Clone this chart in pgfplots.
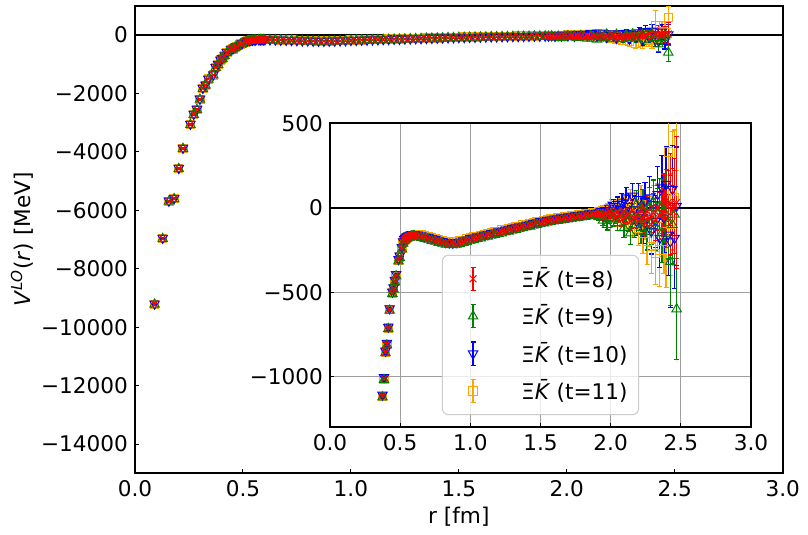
\documentclass[border=0pt]{standalone}
\usepackage{pgfplots}
\usepackage{pgfplotstable}
\pgfplotsset{compat=1.18}
\usepackage{fontspec}
\setmainfont{DejaVu Sans}
\newcommand\fs{\fontsize{10.8pt}{13pt}\selectfont}
\definecolor{mgreen}{HTML}{008000}
\definecolor{morange}{HTML}{FFA500}

\pgfplotstableread{
r y8 e8 y9 e9 y10 e10 y11 e11
0.0907 -9210 40 -9220 45 -9200 40 -9215 45
0.1283 -6960 30 -6975 35 -6950 30 -6965 35
0.1571 -5690 25 -5700 28 -5680 25 -5695 28
0.1814 -5600 25 -5610 28 -5590 25 -5605 28
0.2028 -4570 20 -4580 22 -4560 20 -4575 22
0.2222 -3880 18 -3890 20 -3870 18 -3885 20
0.2565 -3060 15 -3070 16 -3050 15 -3065 16
0.2721 -2720 14 -2730 15 -2710 14 -2725 15
0.2868 -2550 13 -2560 14 -2540 13 -2555 14
0.3008 -2200 12 -2210 13 -2190 12 -2205 13
0.3142 -1830 11 -1840 12 -1820 11 -1835 12
0.3270 -1720 10 -1730 11 -1710 10 -1725 11
0.3394 -1510 10 -1520 11 -1500 10 -1515 11
0.3628 -1370 9 -1380 10 -1360 9 -1375 10
0.3740 -1115 8 -1122 9 -1108 8 -1118 9
0.3848 -1011 8 -1018 9 -1004 8 -1013 9
0.3954 -853 7 -860 8 -848 7 -856 8
0.4056 -807 7 -813 8 -801 7 -809 8
0.4156 -711 6 -717 7 -706 6 -713 7
0.4254 -602 6 -608 7 -597 6 -604 7
0.4443 -503 5 -509 6 -498 5 -505 6
0.4535 -478 5 -484 6 -473 5 -480 6
0.4625 -434 5 -440 6 -429 5 -436 6
0.4713 -399 5 -405 6 -394 5 -401 6
0.4884 -310 4 -316 5 -305 4 -312 5
0.4968 -290 4 -296 5 -285 4 -292 5
0.5131 -240 4 -246 5 -235 4 -242 5
0.5210 -205 4 -211 5 -200 4 -207 5
0.5289 -191 4 -197 5 -186 4 -193 5
0.5366 -185 4 -191 5 -180 4 -187 5
0.5442 -178 4 -184 5 -173 4 -180 5
0.5517 -174 4 -180 5 -169 4 -176 5
0.5591 -170 4 -176 5 -165 4 -172 5
0.5737 -166 4 -172 5 -161 4 -168 5
0.5808 -164 4 -170 5 -159 4 -166 5
0.5878 -163 4 -169 5 -158 4 -165 5
0.5948 -162 4 -168 5 -157 4 -164 5
0.6016 -162 4 -168 5 -157 4 -164 5
0.625 -163 5 -175 6 -160 7 -158 8
0.650 -172 5 -177 6 -165 7 -161 8
0.675 -171 5 -184 6 -172 7 -167 8
0.700 -183 5 -187 6 -174 7 -174 8
0.725 -185 6 -195 7 -181 8 -178 9
0.750 -196 6 -199 7 -186 8 -186 9
0.775 -195 6 -207 7 -194 8 -190 9
0.800 -206 6 -211 7 -199 8 -198 9
0.825 -207 6 -218 7 -205 8 -201 9
0.850 -215 7 -219 8 -207 9 -206 10
0.875 -210 7 -221 8 -209 9 -204 10
0.900 -213 7 -217 8 -205 9 -204 10
0.925 -203 7 -214 8 -202 9 -197 10
0.950 -203 7 -207 8 -195 9 -194 10
0.975 -191 7 -202 8 -190 9 -185 10
1.000 -189 8 -193 9 -181 10 -180 11
1.025 -179 8 -190 9 -178 10 -173 11
1.050 -179 8 -183 9 -171 10 -170 11
1.075 -169 8 -180 9 -168 10 -163 11
1.100 -169 8 -173 9 -161 10 -160 11
1.125 -159 8 -170 9 -158 10 -153 11
1.150 -159 9 -163 10 -151 11 -150 12
1.175 -149 9 -160 10 -148 11 -143 12
1.200 -149 9 -153 10 -141 11 -140 12
1.225 -139 9 -150 10 -138 11 -133 12
1.250 -139 9 -143 10 -131 11 -130 12
1.275 -129 9 -140 10 -128 11 -123 12
1.300 -129 10 -133 11 -121 12 -120 13
1.325 -119 10 -130 11 -118 12 -113 13
1.350 -119 10 -123 11 -111 12 -110 13
1.375 -109 10 -120 11 -108 12 -103 13
1.400 -109 10 -113 11 -101 12 -100 13
1.425 -99 10 -110 11 -98 12 -93 13
1.450 -99 11 -103 12 -91 13 -90 14
1.475 -89 11 -100 12 -88 13 -83 14
1.500 -89 11 -93 12 -81 13 -80 15
1.525 -80 11 -91 12 -79 13 -74 15
1.550 -81 11 -85 12 -73 13 -72 15
1.575 -72 11 -83 12 -71 13 -66 15
1.600 -73 12 -77 13 -65 14 -64 16
1.625 -65 12 -76 13 -64 14 -59 16
1.650 -67 12 -71 13 -59 14 -58 16
1.675 -59 12 -70 14 -58 15 -53 17
1.700 -61 12 -65 14 -53 15 -52 17
1.725 -53 13 -64 14 -52 16 -47 18
1.750 -55 13 -59 15 -47 16 -46 18
1.775 -47 13 -58 15 -46 16 -41 19
1.800 -49 14 -53 16 -41 17 -40 20
1.825 -41 14 -52 16 -40 18 -35 20
1.850 -43 15 -47 17 -35 18 -34 21
1.875 -36 15 -47 17 -35 19 -30 22
1.900 -39 16 -43 18 -31 20 -30 22
1.915 -40 18 -55 22 -30 22 -25 25
1.930 -30 20 -45 24 -20 24 -40 28
1.945 -55 22 -75 28 -40 26 -20 30
1.960 -35 24 -50 30 -15 30 -35 34
1.975 -45 26 -100 32 -30 32 -10 36
1.990 -20 28 -60 34 0 34 -45 38
2.005 -50 30 -35 36 -25 36 10 40
2.020 -30 32 -70 38 10 38 -30 44
2.035 -60 34 -45 40 -40 42 -5 46
2.050 -25 36 -90 44 20 44 -60 50
2.065 -45 38 -30 46 -10 48 0 54
2.080 -70 40 -60 50 30 52 -40 58
2.095 -20 44 -120 54 -15 56 10 62
2.110 -55 46 -40 58 60 60 -70 66
2.125 -35 50 -80 62 10 64 -20 72
2.140 -80 54 -150 66 -40 70 30 78
2.155 -15 58 -50 70 70 74 -90 84
2.170 -60 62 -100 74 -10 80 10 90
2.185 -40 66 20 80 -80 86 -60 96
2.200 -75 70 -70 86 50 92 -120 104
2.215 -10 76 -120 92 -30 98 20 112
2.230 -55 82 10 98 -110 104 -150 120
2.245 -90 88 -60 104 40 110 -60 128
2.260 -20 94 -140 110 -60 118 -200 138
2.275 -60 100 0 118 60 126 -80 148
2.290 -100 108 -90 126 -140 134 -230 160
2.305 -30 116 30 134 20 144 -40 172
2.320 -70 124 -110 142 -80 154 -270 186
2.335 0 132 -40 152 80 164 -60 200
2.350 -50 140 10 162 -180 176 -250 215
2.365 -30 150 -150 172 120 190 -60 230
2.380 40 160 -20 184 -60 204 -140 250
2.395 -60 175 30 198 140 220 -200 270
2.410 30 190 -90 214 -160 240 330 500
2.425 20 300 -320 260 -200 390 -100 300
2.440 -20 250 -100 230 110 260 100 350
2.455 10 280 -40 260 -180 300 60 400
2.470 30 390 -600 300 10 350 600 380
}\datatab

\pgfplotsset{
  base/.style={only marks,
    error bars/y dir=both, error bars/y explicit,
    error bars/error bar style={line width=0.7pt},
    error bars/error mark options={line width=0.6pt, mark size=1.3pt, rotate=90}},
  s8/.style={base, color=red, mark=x, mark size=2.4pt, mark options={solid, line width=0.5pt}},
  s9/.style={base, color=mgreen, mark=triangle, mark size=2.7pt, mark options={solid, line width=0.5pt}},
  s10/.style={base, color=blue, mark=triangle, mark size=2.7pt, mark options={solid, line width=0.5pt, rotate=180}},
  s11/.style={base, color=morange, mark=square, mark size=2.1pt, mark options={solid, line width=0.5pt}},
}

\begin{document}
\begin{tikzpicture}[font=\fs]
\path[use as bounding box] (0,0) rectangle (404pt,267.5pt);
\begin{axis}[
  at={(67.5pt,30.85pt)}, anchor=south west,
  scale only axis, width=323.85pt, height=233.8pt,
  xmin=0, xmax=3, ymin=-15000, ymax=1000,
  xtick={0,0.5,1,1.5,2,2.5,3},
  xticklabels={0.0,0.5,1.0,1.5,2.0,2.5,3.0},
  ytick={-14000,-12000,-10000,-8000,-6000,-4000,-2000,0},
  yticklabels={−14000,−12000,−10000,−8000,−6000,−4000,−2000,0},
  tick pos=left, tick align=inside,
  major tick length=2.2pt,
  every tick/.style={black, line width=0.5pt},
  axis line style={line width=1pt},
  ticklabel style={font=\fs},
  xlabel={r [fm]},
  ylabel={\textit{V}\textsuperscript{\textit{LO}}(\textit{r}) [MeV]},
  xlabel style={at={(axis description cs:0.5,-0.0935)}, anchor=center},
  ylabel style={at={(axis description cs:-0.1745,0.5)}, anchor=center},
  scaled ticks=false,
]
\addplot[black, line width=1pt, forget plot] coordinates {(0,0) (3,0)};
\addplot[s11] table[x=r, y=y11, y error=e11] {\datatab};
\addplot[s10] table[x=r, y=y10, y error=e10] {\datatab};
\addplot[s9] table[x=r, y=y9, y error=e9] {\datatab};
\addplot[s8] table[x=r, y=y8, y error=e8] {\datatab};
\end{axis}

\begin{axis}[
  at={(165pt,53.85pt)}, anchor=south west,
  scale only axis, width=210.5pt, height=152pt,
  xmin=0, xmax=3, ymin=-1300, ymax=500,
  xtick={0,0.5,1,1.5,2,2.5,3},
  xticklabels={0.0,0.5,1.0,1.5,2.0,2.5,3.0},
  ytick={-1000,-500,0,500},
  yticklabels={−1000,−500,0,500},
  tick pos=left, tick align=inside,
  major tick length=2.2pt,
  every tick/.style={black, line width=0.5pt},
  axis line style={line width=1pt},
  ticklabel style={font=\fs},
  grid=major, major grid style={line width=0.5pt, color=black!38},
  axis background/.style={fill=white},
  reverse legend,
  legend cell align=left,
  legend style={at={(0.5,0.04)}, anchor=south, draw=black!20, line width=0.5pt,
    rounded corners=3pt, fill=white, fill opacity=0.8, text opacity=1, draw opacity=1,
    inner xsep=3.5pt, inner ysep=4pt, row sep=3.2pt, font=\fs},
  legend image code/.code={
    \path[draw=none, fill=none] (0pt,-6.5pt) rectangle (33.9pt,6.5pt);
    \draw[#1, sharp corners, line width=0.7pt, mark=none] (11.85pt,-5.8pt) -- (11.85pt,5.8pt);
    \draw[#1, sharp corners, line width=0.6pt, mark=none] (10.6pt,-5.8pt) -- (13.1pt,-5.8pt) (10.6pt,5.8pt) -- (13.1pt,5.8pt);
    \draw[#1, sharp corners] plot[only marks] coordinates {(11.85pt,0pt)};
  },
]
\addplot[black, line width=1pt, forget plot] coordinates {(0,0) (3,0)};
\addplot[s11] table[x=r, y=y11, y error=e11] {\datatab};
\addlegendentry{Ξ\textit{\=K} (t=11)}
\addplot[s10] table[x=r, y=y10, y error=e10] {\datatab};
\addlegendentry{Ξ\textit{\=K} (t=10)}
\addplot[s9] table[x=r, y=y9, y error=e9] {\datatab};
\addlegendentry{Ξ\textit{\=K} (t=9)}
\addplot[s8] table[x=r, y=y8, y error=e8] {\datatab};
\addlegendentry{Ξ\textit{\=K} (t=8)}
\end{axis}
\end{tikzpicture}
\end{document}
